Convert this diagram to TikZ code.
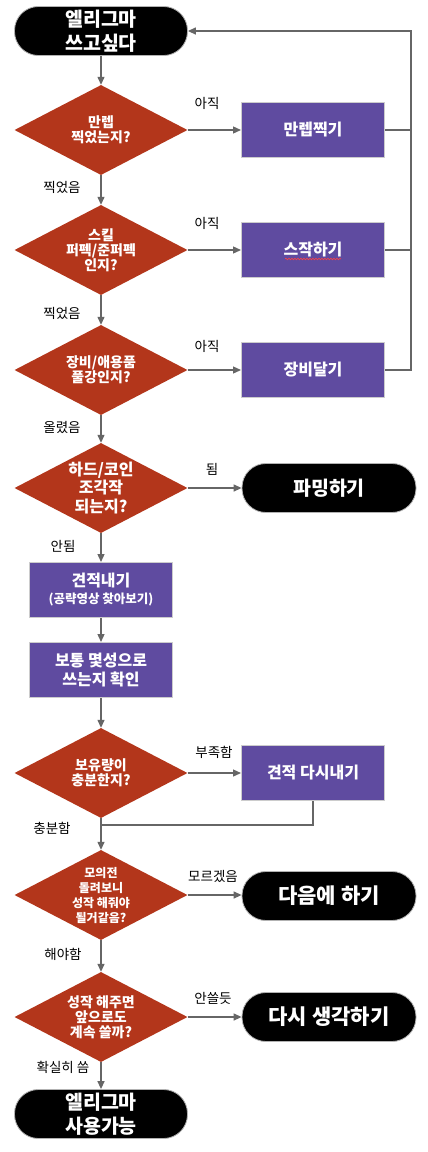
\documentclass[tikz,border=0pt]{standalone}
\usepackage{fontspec}
\setmainfont{Noto Sans CJK KR}
\usetikzlibrary{arrows.meta,shapes.geometric,decorations.pathmorphing}
\definecolor{qred}{HTML}{B3361B}
\definecolor{stepviolet}{HTML}{5F4BA0}
\definecolor{edgegray}{HTML}{666666}
\begin{document}
\begin{tikzpicture}[x=1pt, y=-1pt,
    line/.style={draw=edgegray, line width=1.3pt},
    arr/.style={line, -{Triangle[length=8pt,width=7pt]}},
    term/.style={fill=black, draw=gray!60, line width=0.8pt, rounded corners=24pt,
      minimum width=173pt, minimum height=49pt, text=white, align=center,
      font=\bfseries\fontsize{19.5}{24}\selectfont},
    quest/.style={diamond, fill=qred, inner sep=0pt, aspect=1.92,
      minimum width=173pt, minimum height=90pt, text=white, align=center,
      font=\bfseries\fontsize{14}{15}\selectfont},
    stepbox/.style={rectangle, fill=stepviolet, draw=gray!40, line width=1pt,
      minimum width=143pt, minimum height=55pt, text=white, align=center,
      font=\bfseries\fontsize{16}{19}\selectfont},
    lbl/.style={font=\fontsize{13.5}{15}\selectfont, text=black}]
  \useasboundingbox[fill=white] (0,0) rectangle (428,1152);
  % main column
  \node[term] (start) at (101,31) {엘리그마\\쓰고싶다};
  \node[quest] (qlvl) at (101,130) {만렙\\찍었는지?};
  \node[quest] (qskill) at (101,250) {스킬\\퍼펙/준퍼펙\\인지?};
  \node[quest] (qgear) at (101,370) {장비/애용품\\풀강인지?};
  \node[quest, font=\bfseries\fontsize{16}{18.5}\selectfont] (qshard) at (101,488) {하드/코인\\조각작\\되는지?};
  \node[stepbox] (est) at (101,590) {견적내기\\[-2pt]{\fontsize{12.5}{14}\selectfont(공략영상 찾아보기)}};
  \node[stepbox] (star) at (101,670) {보통 몇성으로\\쓰는지 확인};
  \node[quest] (qstock) at (101,773) {보유량이\\충분한지?};
  \node[quest, font=\bfseries\fontsize{12}{15}\selectfont] (qsim) at (101,895) {모의전\\돌려보니\\성작 해줘야\\될거같음?};
  \node[quest] (qkeep) at (101,1017) {성작 해주면\\앞으로도\\계속 쓸까?};
  \node[term] (done) at (101,1114) {엘리그마\\사용가능};
  % side column
  \node[stepbox] (lvlup) at (313,130) {만렙찍기};
  \node[stepbox] (skillup) at (313,250) {스작하기};
  \node[stepbox] (gearup) at (313,370) {장비달기};
  \node[term, minimum width=174pt] (farm) at (329,488) {파밍하기};
  \node[stepbox] (reest) at (313,773) {견적 다시내기};
  \node[term, minimum width=174pt, font=\bfseries\fontsize{21}{24}\selectfont] (later) at (329,896) {다음에 하기};
  \node[term, minimum width=174pt, font=\bfseries\fontsize{21}{24}\selectfont] (rethink) at (329,1017) {다시 생각하기};
  \draw[red!75, line width=0.6pt, decoration={snake, amplitude=0.8pt, segment length=3pt}, decorate]
    (285,259) -- (341,259);
  % connectors
  \coordinate (rail) at (411,31);
  \coordinate (merge) at (101,825);
  \draw[arr] (start) -- (qlvl);
  \draw[arr] (qlvl) -- (qskill);
  \draw[arr] (qskill) -- (qgear);
  \draw[arr] (qgear) -- (qshard);
  \draw[arr] (qshard) -- (est);
  \draw[arr] (est) -- (star);
  \draw[arr] (star) -- (qstock);
  \draw[arr] (qstock) -- (qsim);
  \draw[arr] (qsim) -- (qkeep);
  \draw[arr] (qkeep) -- (done);
  \draw[arr] (qlvl) -- (lvlup);
  \draw[arr] (qskill) -- (skillup);
  \draw[arr] (qgear) -- (gearup);
  \draw[arr] (qshard) -- (farm);
  \draw[arr] (qstock) -- (reest);
  \draw[arr] (qsim.east) -- (later.west |- qsim.east);
  \draw[arr] (qkeep) -- (rethink);
  \draw[line] (lvlup.east) -- (lvlup.east -| rail);
  \draw[line] (skillup.east) -- (skillup.east -| rail);
  \draw[arr] (gearup.east) -| (rail) -- (start.east);
  \draw[line] (reest.south) |- (merge);
  % branch labels
  \node[lbl] (l1) at (207,103) {아직};
  \node[lbl] (l2) at (207,223) {아직};
  \node[lbl] (l3) at (207,346) {아직};
  \node[lbl] (l4) at (212,469) {됨};
  \node[lbl] (l5) at (214,752) {부족함};
  \node[lbl] (l6) at (213,876) {모르겠음};
  \node[lbl] (l7) at (213,998) {안쓸듯};
  \node[lbl] (l8) at (62,187) {찍었음};
  \node[lbl] (l9) at (62,313) {찍었음};
  \node[lbl] (l10) at (62,428) {올렸음};
  \node[lbl] (l11) at (63,546) {안됨};
  \node[lbl] (l12) at (52,828) {충분함};
  \node[lbl] (l13) at (63,954) {해야함};
  \node[lbl] (l14) at (63,1067) {확실히 씀};
\end{tikzpicture}
\end{document}
